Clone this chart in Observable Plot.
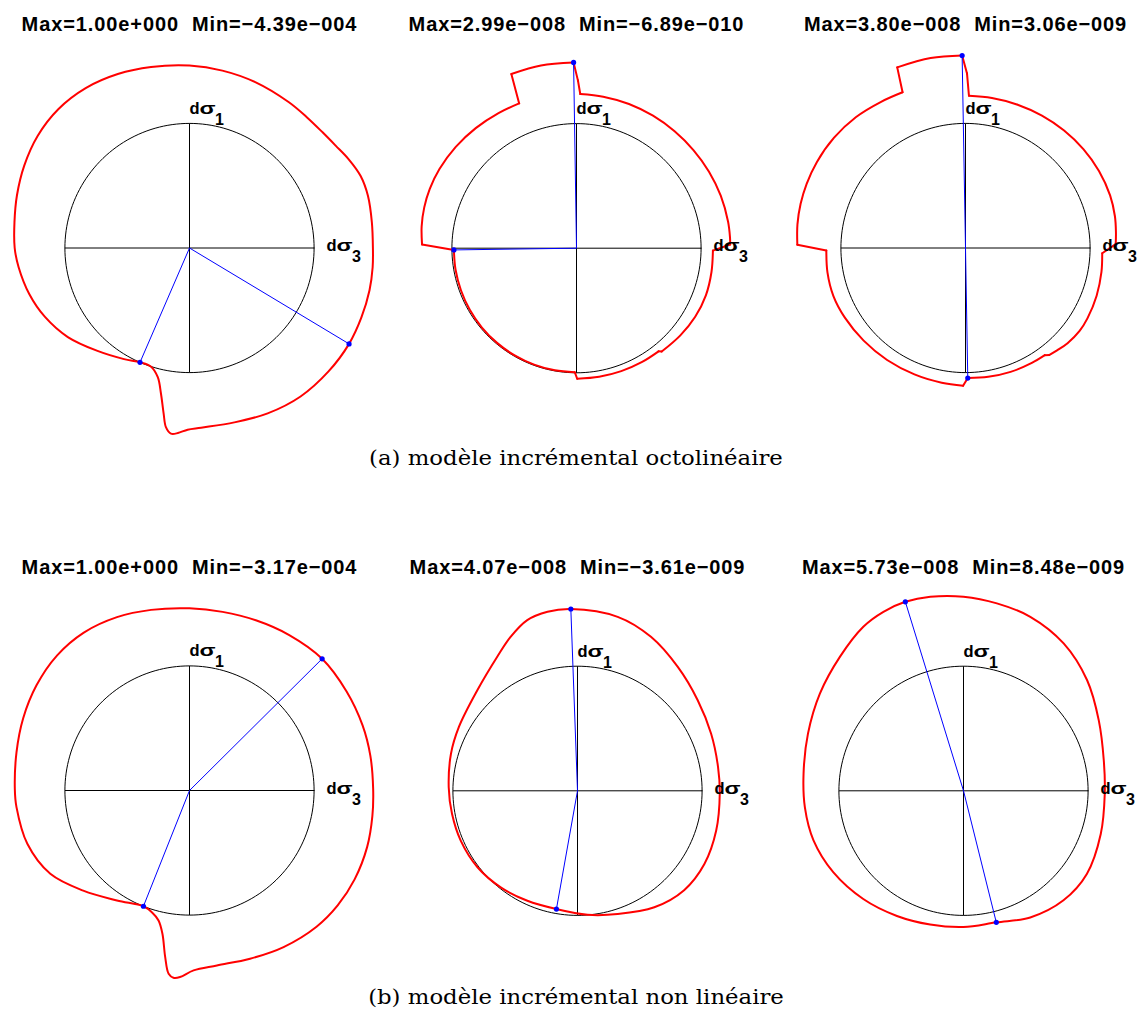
<!DOCTYPE html>
<html><head><meta charset="utf-8">
<script src="https://cdn.jsdelivr.net/npm/d3@7"></script>
<script src="https://cdn.jsdelivr.net/npm/@observablehq/plot@0.6"></script>
<style>
html,body{margin:0;padding:0;background:#fff;overflow:hidden;}
#page{position:relative;width:1142px;height:1017px;overflow:hidden;}
.caption{position:absolute;left:176px;width:800px;text-align:center;font-family:"DejaVu Serif",serif;font-size:20px;line-height:20px;color:#000;transform:scaleX(1.14);transform-origin:50% 50%;white-space:nowrap;}
</style></head><body><div id="page"></div>
<script>
// ---------- data ----------
const panelTitles = [
  "Max=1.00e+000\u00a0\u00a0Min=\u22124.39e\u2212004",
  "Max=2.99e\u2212008\u00a0\u00a0Min=\u22126.89e\u2212010",
  "Max=3.80e\u2212008\u00a0\u00a0Min=3.06e\u2212009",
  "Max=1.00e+000\u00a0\u00a0Min=\u22123.17e\u2212004",
  "Max=4.07e\u2212008\u00a0\u00a0Min=\u22123.61e\u2212009",
  "Max=5.73e\u2212008\u00a0\u00a0Min=8.48e\u2212009"
];
const captions = ["(a) modèle incrémental octolinéaire", "(b) modèle incrémental non linéaire"];
const axisLabels = [
  {x: 0, y: 1, main: "d", greek: "σ", sub: "1"},
  {x: 1, y: 0, main: "d", greek: "σ", sub: "3"}
];

// polar response curves: angle (deg, 0 = dσ3 axis, 90 = dσ1 axis), radius (unit circle = 1)
const a1Angle = [-113.4,-108.1,-103.8,-101.1,-98.9,-97.5,-95.7,-93.6,-90.6,-86.3,-75.6,-64.7,-53.2,-41.6,-31,-22,-13.2,-6,0,8,16.3,22.8,29.2,35,41,48,55.7,68.2,79.5,90,102,112.4,123,133.4,143.5,153.5,163,171.6,180,186.4,196,205.5,216.2,228.2,239.5];
const a1Radius = [1.0,1.0,1.067,1.19,1.343,1.45,1.497,1.488,1.458,1.445,1.445,1.468,1.488,1.492,1.494,1.488,1.484,1.478,1.472,1.478,1.492,1.49,1.462,1.432,1.415,1.41,1.416,1.432,1.448,1.464,1.485,1.51,1.53,1.533,1.515,1.482,1.448,1.42,1.403,1.38,1.338,1.285,1.21,1.108,1.035];

// octolinear panels: sector index marks each smooth arc; arcs are joined by straight jumps
const a2Angle = [110.5,101,90.9, 89.5, 88.6,80,70,60,50,40,30,20,10,4.1,1.4, -1,-10,-20,-30,-40,-50.5, -51.5,-60,-70,-80,-89.7, -90.8,-100,-110,-120,-130,-140,-150,-160,-170,-179.2, -181.4,-188,-195,-202,-210,-220,-230,-240,-248.4];
const a2Radius = [1.493,1.494,1.491, 1.345, 1.238,1.235,1.232,1.228,1.225,1.225,1.228,1.232,1.235,1.235,1.234, 1.095,1.10,1.105,1.10,1.088,1.075, 1.058,1.054,1.05,1.048,1.048, 0.995,0.995,0.994,0.993,0.992,0.991,0.989,0.987,0.986,0.984, 1.24,1.255,1.265,1.27,1.27,1.265,1.258,1.252,1.25];
const a2Sector = [0,0,0, 1, 2,2,2,2,2,2,2,2,2,2,2, 3,3,3,3,3,3, 4,4,4,4,4, 5,5,5,5,5,5,5,5,5,5, 6,6,6,6,6,6,6,6,6];

const a3Angle = [110.7,100.4,91, 89.5, 88.7,80,70,60,50,40,30,20,12,6,1.5, -2.2,-10,-20,-30,-36,-43,-48,-52, -53.5,-60,-70,-80,-89, -91,-100,-112,-125,-137.7,-150,-160,-170,-179, -181.1,-188,-195,-202,-210,-220,-230,-240,-248];
const a3Radius = [1.55,1.55,1.545, 1.40, 1.222,1.222,1.224,1.227,1.231,1.235,1.237,1.235,1.226,1.214,1.206, 1.098,1.108,1.12,1.13,1.132,1.12,1.103,1.09, 1.07,1.065,1.058,1.05,1.044, 1.105,1.098,1.094,1.097,1.105,1.118,1.128,1.125,1.117, 1.35,1.362,1.37,1.375,1.378,1.377,1.37,1.355,1.348];
const a3Sector = [0,0,0, 1, 2,2,2,2,2,2,2,2,2,2,2, 3,3,3,3,3,3,3,3, 4,4,4,4,4, 5,5,5,5,5,5,5,5,5, 6,6,6,6,6,6,6,6,6];

const b1Angle = [-111.7,-107.2,-103.4,-100.7,-98.3,-96.5,-94.9,-92.9,-88.7,-81.1,-70.2,-59,-47,-37.8,-28.3,-17.6,-8,0.5,10.9,20.6,32.2,44.8,57.3,68.7,79.5,90,102,112.7,123.8,134.5,145.5,156.6,167.5,179.4,185.5,198.2,210.9,223.3,236.6];
const b1Radius = [1.0,1.022,1.072,1.17,1.351,1.48,1.508,1.499,1.444,1.421,1.435,1.466,1.495,1.505,1.505,1.496,1.482,1.474,1.478,1.484,1.49,1.5,1.482,1.466,1.458,1.462,1.482,1.508,1.525,1.518,1.49,1.455,1.422,1.402,1.395,1.37,1.302,1.172,1.057];

const b2Angle = [-100.1,-85.4,-72,-56.6,-43,-30,-16,-1.2,9.6,23.1,37,51,64.5,77,92.1,99.5,106.4,113.5,121,134.9,151.7,163.7,178.4,190.4,203.1,217.4,231.5,245.5];
const b2Radius = [0.964,0.998,1.04,1.12,1.17,1.176,1.158,1.142,1.144,1.166,1.208,1.279,1.369,1.433,1.46,1.457,1.428,1.347,1.253,1.139,1.081,1.058,1.034,1.024,1.019,1.01,0.99,0.97];

const b3Angle = [-76,-62.2,-47.6,-34,-17.5,-1.2,12.2,27.5,41.8,55.8,69,79.9,90,99.7,107.1,114.1,121.4,132.7,145.9,159.8,173.9,186,198.3,212,227.2,242,256,270];
const b3Radius = [1.088,1.149,1.19,1.194,1.155,1.134,1.152,1.224,1.331,1.43,1.496,1.528,1.558,1.58,1.587,1.574,1.543,1.463,1.392,1.33,1.291,1.28,1.268,1.233,1.184,1.138,1.106,1.093];

// extreme points (blue rays)
const maxAngle  = [-31, 90.9, 91, 44.8, 92.1, 107.1];
const maxRadius = [1.494, 1.491, 1.545, 1.5, 1.46, 1.587];
const minAngle  = [-113.4, -179.2, -89, -111.7, -100.1, -76];
const minRadius = [1.0, 0.984, 1.044, 1.0, 0.964, 1.088];

// ---------- layout / style ----------
const curveAngles = [a1Angle, a2Angle, a3Angle, b1Angle, b2Angle, b3Angle];
const curveRadii  = [a1Radius, a2Radius, a3Radius, b1Radius, b2Radius, b3Radius];
const curveSectors = [null, a2Sector, a3Sector, null, null, null];
const layout = [
  {cx: 188.5, cy: 247.5, top: 0,   titleDy: 30.5},
  {cx: 576,   cy: 247.7, top: 0,   titleDy: 30.5},
  {cx: 965,   cy: 247.5, top: 0,   titleDy: 30.5},
  {cx: 189.3, cy: 790,   top: 542, titleDy: 31},
  {cx: 576.7, cy: 790.3, top: 542, titleDy: 31},
  {cx: 963.3, cy: 790.3, top: 542, titleDy: 31}
];
const R = 124.6, W = 380, H = 445;
const SANS = "Liberation Sans, Arial, Helvetica, sans-serif";
const RED = "#ff0000", BLUE = "#0000ff";
const rad = d => d * Math.PI / 180;
const toXY = (angles, radii, sectors) => angles.map((a, k) => ({x: radii[k] * Math.cos(rad(a)), y: radii[k] * Math.sin(rad(a)), s: sectors ? sectors[k] : 0}));
const unitCircle = d3.range(0, 361, 2).map(a => ({x: Math.cos(rad(a)), y: Math.sin(rad(a))}));
const crossAxes = [{x1: -1, y1: 0, x2: 1, y2: 0}, {x1: 0, y1: -1, x2: 0, y2: 1}];
const labelOffsets = [
  {d: [0, -9.7], g: [10, -9.7], s: [25.5, 1.3]},
  {d: [12.5, 3.2], g: [22.5, 3.2], s: [38, 14.2]}
];

function curveMarks(i) {
  const pts = toXY(curveAngles[i], curveRadii[i], curveSectors[i]);
  if (!curveSectors[i]) {
    return [Plot.line(pts, {x: "x", y: "y", stroke: RED, strokeWidth: 2, curve: "catmull-rom-closed"})];
  }
  // jumps between consecutive sectors (last point of one to first point of next, closed)
  const groups = d3.groups(pts, d => d.s).map(g => g[1]);
  const jumps = groups.map((g, k) => {
    const nxt = groups[(k + 1) % groups.length];
    return {x1: g[g.length - 1].x, y1: g[g.length - 1].y, x2: nxt[0].x, y2: nxt[0].y};
  });
  return [
    Plot.line(pts, {x: "x", y: "y", z: "s", stroke: RED, strokeWidth: 2, curve: "catmull-rom", strokeLinecap: "round"}),
    Plot.link(jumps, {x1: "x1", y1: "y1", x2: "x2", y2: "y2", stroke: RED, strokeWidth: 2, strokeLinecap: "round"})
  ];
}

const page = document.getElementById("page");
layout.forEach((L, i) => {
  const ext = toXY([maxAngle[i], minAngle[i]], [maxRadius[i], minRadius[i]]);
  const labelMarks = [];
  axisLabels.forEach((lab, j) => {
    const o = labelOffsets[j];
    const base = {x: "x", y: "y", textAnchor: "start", lineAnchor: "bottom", fontFamily: SANS, fontWeight: "bold", fill: "black"};
    labelMarks.push(Plot.text([lab], {...base, text: d => d.main, dx: o.d[0], dy: o.d[1], fontSize: 16.5}));
    labelMarks.push(Plot.text([lab], {...base, text: d => d.greek, dx: o.g[0], dy: o.g[1], fontSize: 16.5}));
    labelMarks.push(Plot.text([lab], {...base, text: d => d.sub, dx: o.s[0], dy: o.s[1], fontSize: 16}));
  });
  const svg = Plot.plot({
    width: W, height: H, margin: 0,
    x: {domain: [-(W / 2) / R, (W / 2) / R], axis: null},
    y: {domain: [-(L.top + H - L.cy) / R, (L.cy - L.top) / R], axis: null},
    style: {background: "transparent", overflow: "visible"},
    marks: [
      Plot.line(unitCircle, {x: "x", y: "y", stroke: "#000", strokeWidth: 1}),
      Plot.link(crossAxes, {x1: "x1", y1: "y1", x2: "x2", y2: "y2", stroke: "#000", strokeWidth: 1}),
      ...curveMarks(i),
      Plot.link(ext, {x1: () => 0, y1: () => 0, x2: "x", y2: "y", stroke: BLUE, strokeWidth: 1}),
      Plot.dot(ext, {x: "x", y: "y", r: 2.6, fill: BLUE, stroke: "none"}),
      ...labelMarks,
      Plot.text([panelTitles[i]], {frameAnchor: "top", dy: L.titleDy, lineAnchor: "bottom", text: d => d, fontFamily: SANS, fontSize: 20, fontWeight: "bold", fill: "black"})
    ]
  });
  svg.querySelectorAll("text").forEach(t => {
    if (t.textContent.startsWith("Max")) t.style.letterSpacing = "0.9px";
    if (t.textContent === "σ") {
      const tr = t.getAttribute("transform");
      if (tr) t.setAttribute("transform", tr + " scale(1.42,1)");
      else {
        const x = +t.getAttribute("x") || 0, y = +t.getAttribute("y") || 0;
        t.removeAttribute("x"); t.removeAttribute("y");
        t.setAttribute("transform", `translate(${x},${y}) scale(1.42,1)`);
      }
    }
  });
  svg.style.position = "absolute";
  svg.style.left = (L.cx - W / 2) + "px";
  svg.style.top = L.top + "px";
  page.appendChild(svg);
});

[448, 987].forEach((top, k) => {
  const div = document.createElement("div");
  div.className = "caption";
  div.style.top = top + "px";
  div.textContent = captions[k];
  page.appendChild(div);
});
</script>
</body></html>
